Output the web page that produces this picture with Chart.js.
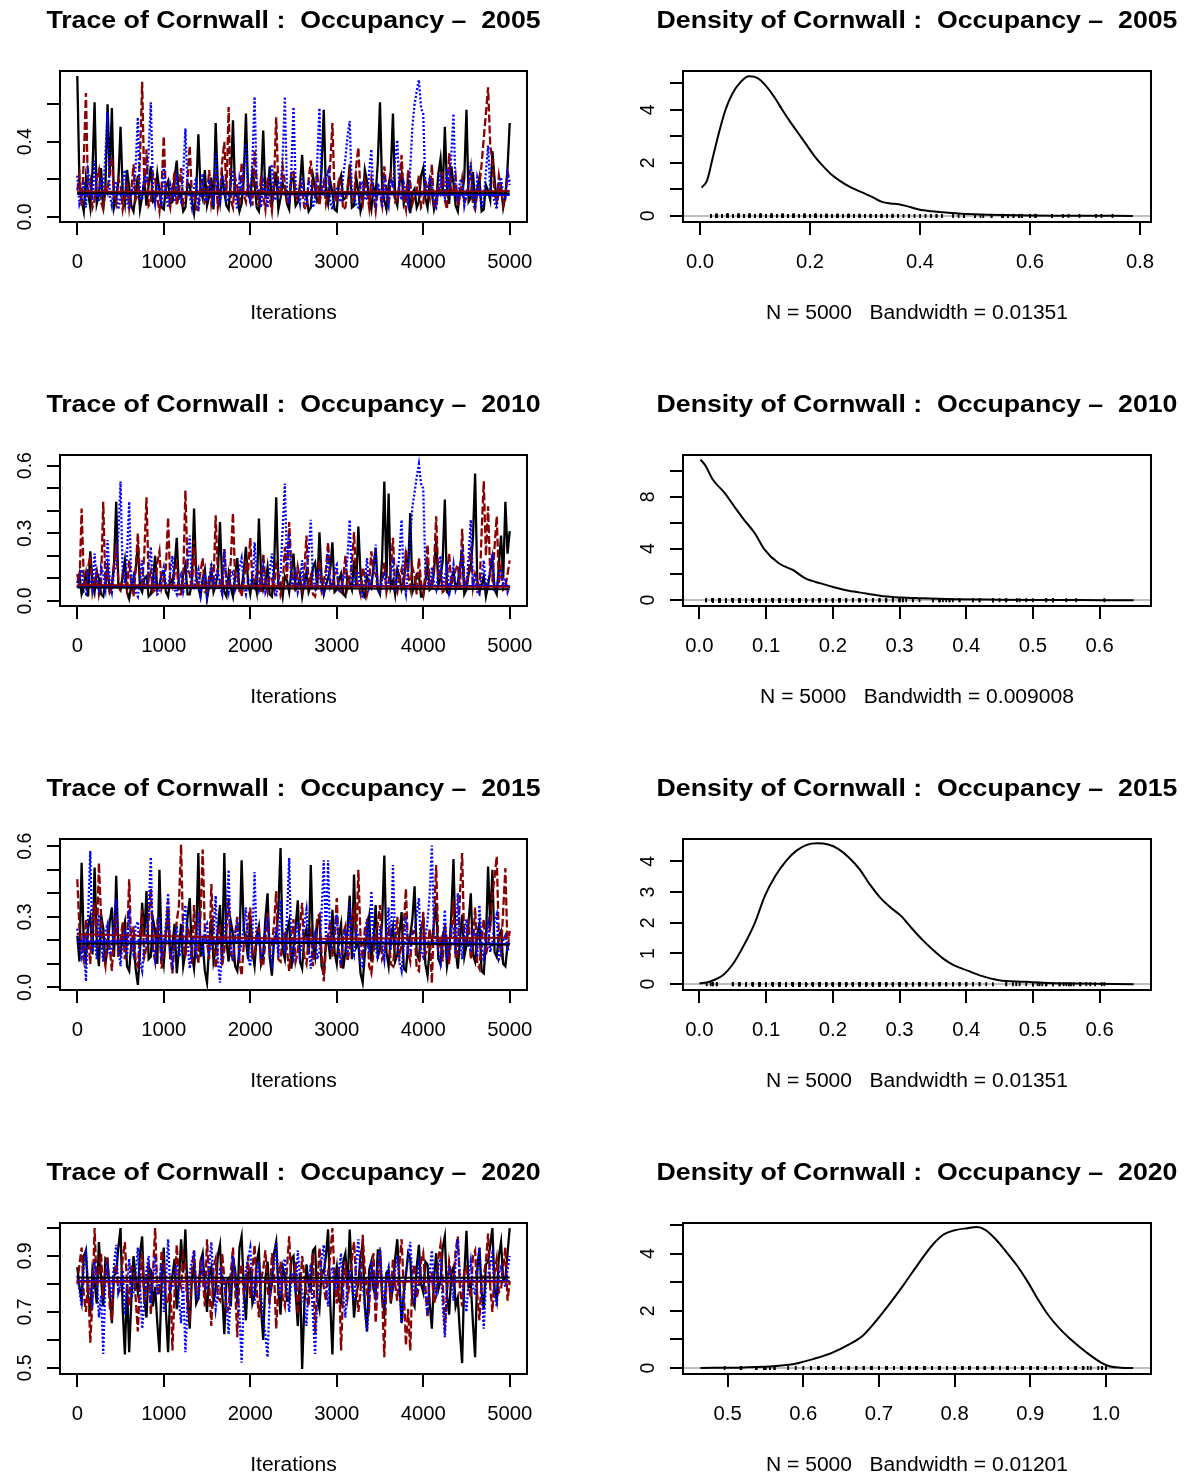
<!DOCTYPE html>
<html>
<head>
<meta charset="utf-8">
<title>Cornwall occupancy – trace and density</title>
<script src="https://cdn.jsdelivr.net/npm/chart.js@4/dist/chart.umd.min.js"></script>
<style>
  body { margin: 0; background: #fff; overflow: hidden; }
  #wrap { position: relative; width: 1187px; height: 1475px; }
  #wrap canvas { position: absolute; }
</style>
</head>
<body>
<div id="wrap"></div>
<script>
"use strict";

// =============================================================
// DATA (thinned to one value per 25 iterations)
// =============================================================
const years = ["2005", "2010", "2015", "2020"];
const iterStep = 25;
const iterTicks = [0, 1000, 2000, 3000, 4000, 5000];
const iterTickLabels = ["0", "1000", "2000", "3000", "4000", "5000"];
const smoothIters = [0, 1250, 2500, 3750, 5000];

const trace2005Black = [
  0.75,0.18, 0.09,0.03, 0.21,0.13, 0.05,0.24, 0.61,0.07, 0.12,0.26, 0.04,0.15, 0.60,0.22, 0.58,0.05, 0.10,0.19,
  0.48,0.14, 0.07,0.25, 0.16,0.06, 0.03,0.12, 0.22,0.04, 0.11,0.20, 0.06,0.17, 0.27,0.08, 0.09,0.23, 0.14,0.05,
  0.04,0.16, 0.19,0.07, 0.08,0.21, 0.30,0.10, 0.12,0.03, 0.05,0.18, 0.17,0.09, 0.02,0.13, 0.44,0.15, 0.10,0.25,
  0.06,0.11, 0.21,0.04, 0.50,0.17, 0.08,0.22, 0.13,0.06, 0.04,0.19, 0.515,0.12, 0.11,0.03, 0.07,0.20, 0.55,0.14,
  0.09,0.24, 0.18,0.05, 0.03,0.16, 0.46,0.11, 0.12,0.27, 0.06,0.15, 0.24,0.04, 0.10,0.18, 0.15,0.07, 0.04,0.21,
  0.20,0.06, 0.08,0.17, 0.33,0.12, 0.11,0.03, 0.05,0.22, 0.16,0.08, 0.09,0.26, 0.57,0.13, 0.07,0.19, 0.13,0.04,
  0.03,0.18, 0.22,0.09, 0.10,0.14, 0.28,0.05, 0.06,0.21, 0.14,0.03, 0.08,0.25, 0.19,0.10, 0.04,0.16, 0.12,0.29,
  0.61,0.15, 0.09,0.04, 0.17,0.24, 0.55,0.10, 0.06,0.18, 0.23,0.07, 0.11,0.20, 0.02,0.13, 0.15,0.05, 0.08,0.22,
  0.26,0.10, 0.05,0.19, 0.13,0.04, 0.09,0.23, 0.31,0.12, 0.48,0.16, 0.07,0.27, 0.18,0.06, 0.03,0.14, 0.12,0.21,
  0.57,0.08, 0.10,0.24, 0.06,0.15, 0.21,0.03, 0.04,0.17, 0.14,0.09, 0.35,0.20, 0.08,0.13, 0.16,0.05, 0.11,0.26,
  0.50
];
const trace2005Red = [
  0.14,0.22, 0.06,0.30, 0.66,0.10, 0.18,0.05, 0.09,0.21, 0.25,0.08, 0.04,0.17, 0.13,0.26, 0.32,0.11, 0.07,0.20,
  0.17,0.04, 0.10,0.19, 0.05,0.14, 0.28,0.09, 0.12,0.31, 0.72,0.15, 0.36,0.06, 0.08,0.23, 0.20,0.10, 0.03,0.16,
  0.43,0.12, 0.11,0.05, 0.15,0.24, 0.06,0.13, 0.26,0.07, 0.09,0.20, 0.38,0.11, 0.13,0.04, 0.04,0.18, 0.19,0.08,
  0.10,0.25, 0.07,0.14, 0.23,0.05, 0.12,0.29, 0.40,0.13, 0.585,0.09, 0.05,0.21, 0.16,0.06, 0.29,0.12, 0.08,0.18,
  0.14,0.06, 0.35,0.16, 0.06,0.22, 0.11,0.04, 0.21,0.10, 0.03,0.19, 0.53,0.14, 0.12,0.27, 0.18,0.08, 0.07,0.23,
  0.25,0.11, 0.09,0.18, 0.15,0.05, 0.04,0.20, 0.30,0.13, 0.11,0.24, 0.06,0.15, 0.19,0.07, 0.13,0.28, 0.50,0.12,
  0.08,0.21, 0.17,0.04, 0.05,0.16, 0.24,0.09, 0.10,0.27, 0.37,0.12, 0.07,0.19, 0.14,0.05, 0.20,0.11, 0.03,0.15,
  0.12,0.06, 0.27,0.13, 0.06,0.22, 0.16,0.08, 0.09,0.18, 0.33,0.10, 0.04,0.25, 0.18,0.07, 0.11,0.14, 0.22,0.05,
  0.07,0.19, 0.15,0.10, 0.28,0.06, 0.05,0.17, 0.13,0.24, 0.09,0.04, 0.34,0.15, 0.12,0.21, 0.06,0.11, 0.20,0.08,
  0.10,0.18, 0.26,0.07, 0.04,0.13, 0.17,0.28, 0.42,0.55, 0.69,0.38, 0.30,0.12, 0.08,0.22, 0.15,0.06, 0.11,0.24,
  0.19
];
const trace2005Blue = [
  0.22,0.07, 0.11,0.19, 0.05,0.24, 0.17,0.09, 0.30,0.13, 0.08,0.21, 0.14,0.33, 0.56,0.12, 0.06,0.16, 0.19,0.04,
  0.10,0.20, 0.25,0.08, 0.04,0.15, 0.13,0.27, 0.53,0.10, 0.09,0.22, 0.18,0.35, 0.61,0.14, 0.07,0.18, 0.15,0.06,
  0.27,0.12, 0.05,0.17, 0.12,0.08, 0.20,0.11, 0.08,0.23, 0.47,0.16, 0.11,0.05, 0.16,0.21, 0.03,0.14, 0.23,0.09,
  0.09,0.18, 0.14,0.06, 0.34,0.15, 0.06,0.22, 0.18,0.08, 0.10,0.17, 0.25,0.11, 0.04,0.20, 0.13,0.26, 0.39,0.12,
  0.08,0.30, 0.64,0.17, 0.12,0.05, 0.19,0.14, 0.05,0.22, 0.28,0.09, 0.10,0.18, 0.15,0.32, 0.64,0.13, 0.07,0.25,
  0.585,0.16, 0.13,0.07, 0.21,0.12, 0.06,0.19, 0.17,0.05, 0.09,0.30, 0.58,0.14, 0.11,0.20, 0.24,0.08, 0.04,0.15,
  0.15,0.10, 0.08,0.22, 0.31,0.43, 0.51,0.13, 0.12,0.06, 0.05,0.17, 0.19,0.09, 0.10,0.24, 0.36,0.12, 0.07,0.18,
  0.14,0.05, 0.22,0.11, 0.06,0.20, 0.17,0.30, 0.41,0.14, 0.09,0.18, 0.13,0.07, 0.26,0.48, 0.60,0.67, 0.73,0.58,
  0.55,0.16, 0.11,0.21, 0.18,0.07, 0.05,0.14, 0.23,0.12, 0.10,0.26, 0.15,0.33, 0.55,0.13, 0.08,0.19, 0.20,0.06,
  0.12,0.17, 0.29,0.10, 0.06,0.21, 0.16,0.05, 0.09,0.24, 0.38,0.15, 0.13,0.08, 0.04,0.18, 0.21,0.11, 0.10,0.23,
  0.17
];

const trace2010Black = [
  0.08,0.12, 0.03,0.06, 0.12,0.02, 0.22,0.09, 0.04,0.13, 0.10,0.03, 0.02,0.08, 0.15,0.04, 0.06,0.17, 0.44,0.07,
  0.05,0.11, 0.18,0.04, 0.01,0.07, 0.09,0.14, 0.25,0.06, 0.04,0.10, 0.11,0.02, 0.03,0.09, 0.20,0.05, 0.07,0.12,
  0.13,0.04, 0.02,0.10, 0.08,0.15, 0.28,0.06, 0.05,0.12, 0.16,0.03, 0.03,0.08, 0.41,0.11, 0.06,0.02, 0.10,0.14,
  0.01,0.07, 0.14,0.04, 0.07,0.12, 0.35,0.09, 0.04,0.02, 0.12,0.06, 0.02,0.11, 0.19,0.05, 0.06,0.13, 0.24,0.08,
  0.03,0.10, 0.09,0.04, 0.365,0.12, 0.05,0.08, 0.15,0.03, 0.02,0.14, 0.46,0.07, 0.08,0.02, 0.11,0.09, 0.04,0.13,
  0.21,0.05, 0.06,0.11, 0.02,0.08, 0.13,0.04, 0.07,0.15, 0.17,0.06, 0.305,0.10, 0.03,0.07, 0.10,0.14, 0.26,0.04,
  0.05,0.09, 0.12,0.03, 0.02,0.11, 0.08,0.05, 0.18,0.07, 0.33,0.12, 0.04,0.02, 0.11,0.08, 0.06,0.15, 0.23,0.05,
  0.03,0.19, 0.53,0.10, 0.476,0.06, 0.09,0.03, 0.14,0.11, 0.05,0.08, 0.20,0.13, 0.39,0.04, 0.07,0.12, 0.12,0.02,
  0.02,0.09, 0.16,0.05, 0.06,0.13, 0.27,0.07, 0.10,0.18, 0.45,0.04, 0.03,0.10, 0.13,0.06, 0.08,0.15, 0.22,0.03,
  0.05,0.12, 0.15,0.28, 0.565,0.09, 0.04,0.07, 0.11,0.02, 0.07,0.13, 0.19,0.05, 0.03,0.16, 0.29,0.10, 0.44,0.21,
  0.31
];
const trace2010Red = [
  0.12,0.06, 0.41,0.10, 0.05,0.15, 0.20,0.04, 0.09,0.13, 0.03,0.08, 0.44,0.07, 0.14,0.03, 0.07,0.16, 0.25,0.09,
  0.04,0.12, 0.11,0.05, 0.18,0.07, 0.02,0.14, 0.30,0.10, 0.08,0.21, 0.46,0.09, 0.13,0.04, 0.05,0.17, 0.22,0.06,
  0.10,0.15, 0.37,0.08, 0.06,0.12, 0.16,0.03, 0.03,0.10, 0.49,0.14, 0.12,0.05, 0.27,0.09, 0.07,0.13, 0.19,0.04,
  0.04,0.11, 0.14,0.07, 0.38,0.12, 0.09,0.04, 0.23,0.08, 0.05,0.18, 0.39,0.10, 0.11,0.06, 0.02,0.09, 0.17,0.13,
  0.28,0.08, 0.06,0.14, 0.13,0.04, 0.21,0.09, 0.04,0.11, 0.10,0.05, 0.16,0.12, 0.03,0.07, 0.24,0.10, 0.35,0.15,
  0.08,0.04, 0.15,0.10, 0.05,0.13, 0.29,0.07, 0.11,0.03, 0.02,0.09, 0.18,0.05, 0.09,0.14, 0.26,0.08, 0.06,0.12,
  0.13,0.05, 0.04,0.10, 0.20,0.06, 0.10,0.16, 0.305,0.09, 0.07,0.03, 0.15,0.11, 0.03,0.08, 0.22,0.13, 0.12,0.05,
  0.05,0.09, 0.17,0.04, 0.09,0.14, 0.28,0.07, 0.04,0.10, 0.14,0.05, 0.23,0.12, 0.06,0.15, 0.11,0.03, 0.19,0.08,
  0.03,0.12, 0.25,0.06, 0.08,0.16, 0.375,0.10, 0.13,0.04, 0.05,0.11, 0.21,0.07, 0.10,0.14, 0.16,0.05, 0.32,0.09,
  0.07,0.13, 0.24,0.06, 0.12,0.09, 0.04,0.30, 0.53,0.20, 0.42,0.11, 0.09,0.24, 0.375,0.08, 0.15,0.05, 0.06,0.12,
  0.18
];
const trace2010Blue = [
  0.06,0.10, 0.14,0.04, 0.03,0.12, 0.09,0.05, 0.21,0.08, 0.05,0.15, 0.12,0.06, 0.27,0.09, 0.04,0.13, 0.16,0.30,
  0.53,0.12, 0.08,0.20, 0.44,0.07, 0.11,0.04, 0.02,0.09, 0.18,0.05, 0.07,0.14, 0.24,0.06, 0.10,0.03, 0.04,0.11,
  0.15,0.07, 0.06,0.13, 0.20,0.05, 0.03,0.10, 0.12,0.04, 0.08,0.16, 0.29,0.08, 0.05,0.11, 0.14,0.03, 0.09,0.12,
  0.02,0.08, 0.17,0.05, 0.11,0.14, 0.06,0.03, 0.23,0.09, 0.04,0.12, 0.13,0.05, 0.08,0.15, 0.19,0.07, 0.03,0.10,
  0.10,0.05, 0.26,0.11, 0.05,0.09, 0.15,0.04, 0.07,0.13, 0.21,0.06, 0.02,0.10, 0.12,0.32, 0.52,0.15, 0.30,0.07,
  0.09,0.13, 0.04,0.08, 0.18,0.05, 0.11,0.22, 0.36,0.10, 0.06,0.12, 0.14,0.04, 0.03,0.09, 0.22,0.06, 0.08,0.14,
  0.16,0.04, 0.05,0.11, 0.10,0.20, 0.36,0.08, 0.07,0.12, 0.13,0.03, 0.02,0.09, 0.19,0.06, 0.09,0.14, 0.25,0.05,
  0.04,0.10, 0.12,0.06, 0.06,0.13, 0.17,0.04, 0.10,0.21, 0.36,0.08, 0.03,0.15, 0.28,0.42, 0.48,0.55, 0.607,0.52,
  0.50,0.13, 0.09,0.05, 0.15,0.08, 0.05,0.12, 0.20,0.06, 0.11,0.15, 0.04,0.09, 0.16,0.05, 0.08,0.13, 0.24,0.07,
  0.06,0.20, 0.36,0.08, 0.12,0.04, 0.03,0.11, 0.18,0.06, 0.09,0.14, 0.21,0.05, 0.05,0.12, 0.14,0.07, 0.10,0.04,
  0.07
];

const trace2015Black = [
  0.22,0.11, 0.53,0.18, 0.12,0.26, 0.30,0.14, 0.51,0.20, 0.09,0.31, 0.25,0.10, 0.17,0.28, 0.34,0.13, 0.475,0.16,
  0.14,0.24, 0.28,0.09, 0.07,0.19, 0.21,0.08, 0.011,0.15, 0.36,0.22, 0.41,0.12, 0.13,0.29, 0.24,0.10, 0.50,0.17,
  0.10,0.23, 0.32,0.12, 0.18,0.27, 0.06,0.16, 0.27,0.09, 0.15,0.30, 0.38,0.14, 0.08,0.21, 0.571,0.13, 0.19,0.07,
  0.02,0.18, 0.29,0.11, 0.16,0.24, 0.35,0.10, 0.571,0.19, 0.11,0.28, 0.23,0.09, 0.07,0.17, 0.54,0.25, 0.20,0.12,
  0.31,0.15, 0.09,0.22, 0.26,0.10, 0.14,0.29, 0.40,0.13, 0.05,0.20, 0.22,0.33, 0.593,0.16, 0.12,0.24, 0.28,0.08,
  0.17,0.26, 0.37,0.11, 0.08,0.21, 0.25,0.14, 0.52,0.18, 0.13,0.27, 0.30,0.09, 0.06,0.19, 0.21,0.12, 0.33,0.15,
  0.10,0.22, 0.27,0.08, 0.15,0.25, 0.39,0.12, 0.48,0.17, 0.19,0.06, 0.02,0.14, 0.24,0.30, 0.11,0.20, 0.35,0.13,
  0.16,0.28, 0.561,0.15, 0.09,0.21, 0.26,0.11, 0.14,0.23, 0.32,0.08, 0.07,0.18, 0.22,0.29, 0.43,0.14, 0.12,0.25,
  0.29,0.10, 0.05,0.17, 0.20,0.27, 0.36,0.12, 0.10,0.22, 0.25,0.09, 0.15,0.31, 0.546,0.16, 0.08,0.20, 0.31,0.13,
  0.18,0.28, 0.40,0.14, 0.11,0.23, 0.27,0.07, 0.06,0.19, 0.514,0.26, 0.50,0.15, 0.13,0.22, 0.24,0.10, 0.09,0.18,
  0.19
];
const trace2015Red = [
  0.46,0.25, 0.18,0.12, 0.29,0.21, 0.10,0.27, 0.36,0.16, 0.53,0.30, 0.14,0.09, 0.23,0.17, 0.07,0.24, 0.31,0.13,
  0.20,0.28, 0.12,0.19, 0.46,0.15, 0.26,0.11, 0.09,0.22, 0.33,0.13, 0.17,0.29, 0.42,0.16, 0.11,0.27, 0.24,0.08,
  0.15,0.23, 0.37,0.14, 0.06,0.19, 0.28,0.35, 0.607,0.20, 0.13,0.26, 0.22,0.10, 0.35,0.18, 0.10,0.31, 0.586,0.24,
  0.19,0.12, 0.44,0.21, 0.08,0.17, 0.27,0.09, 0.16,0.25, 0.38,0.14, 0.12,0.23, 0.30,0.11, 0.05,0.18, 0.21,0.28,
  0.34,0.13, 0.14,0.24, 0.25,0.10, 0.09,0.20, 0.32,0.15, 0.18,0.27, 0.41,0.12, 0.11,0.22, 0.23,0.16, 0.07,0.19,
  0.29,0.11, 0.15,0.26, 0.36,0.13, 0.10,0.21, 0.24,0.09, 0.19,0.30, 0.31,0.14, 0.026,0.17, 0.22,0.28, 0.13,0.20,
  0.38,0.16, 0.08,0.23, 0.26,0.11, 0.17,0.29, 0.33,0.18, 0.50,0.21, 0.12,0.25, 0.28,0.09, 0.06,0.15, 0.21,0.27,
  0.35,0.12, 0.14,0.22, 0.25,0.10, 0.09,0.19, 0.30,0.13, 0.18,0.26, 0.42,0.15, 0.11,0.24, 0.23,0.08, 0.07,0.20,
  0.32,0.14, 0.16,0.25, 0.017,0.30, 0.52,0.17, 0.20,0.11, 0.27,0.19, 0.10,0.23, 0.37,0.12, 0.14,0.40, 0.571,0.18,
  0.22,0.29, 0.12,0.17, 0.34,0.10, 0.08,0.21, 0.29,0.14, 0.18,0.26, 0.39,0.47, 0.557,0.20, 0.15,0.33, 0.507,0.16,
  0.24
];
const trace2015Blue = [
  0.25,0.17, 0.13,0.22, 0.026,0.30, 0.58,0.15, 0.20,0.12, 0.31,0.19, 0.11,0.24, 0.27,0.14, 0.16,0.29, 0.38,0.18,
  0.09,0.20, 0.23,0.13, 0.33,0.18, 0.14,0.26, 0.28,0.11, 0.07,0.19, 0.21,0.32, 0.554,0.17, 0.12,0.24, 0.30,0.14,
  0.18,0.27, 0.40,0.16, 0.10,0.21, 0.26,0.13, 0.15,0.28, 0.35,0.19, 0.08,0.17, 0.22,0.12, 0.32,0.20, 0.13,0.25,
  0.27,0.15, 0.17,0.23, 0.39,0.12, 0.02,0.18, 0.24,0.31, 0.50,0.16, 0.11,0.21, 0.29,0.14, 0.19,0.26, 0.34,0.13,
  0.09,0.22, 0.49,0.18, 0.21,0.12, 0.14,0.25, 0.30,0.16, 0.10,0.20, 0.26,0.13, 0.37,0.19, 0.16,0.30, 0.55,0.15,
  0.12,0.23, 0.28,0.14, 0.20,0.27, 0.33,0.17, 0.08,0.19, 0.23,0.12, 0.15,0.32, 0.54,0.21, 0.54,0.16, 0.18,0.25,
  0.31,0.14, 0.11,0.20, 0.25,0.13, 0.36,0.18, 0.14,0.24, 0.22,0.10, 0.09,0.19, 0.29,0.15, 0.41,0.21, 0.17,0.12,
  0.26,0.19, 0.12,0.24, 0.34,0.16, 0.52,0.20, 0.19,0.11, 0.07,0.18, 0.30,0.14, 0.16,0.23, 0.24,0.31, 0.38,0.15,
  0.13,0.21, 0.28,0.40, 0.603,0.22, 0.21,0.15, 0.10,0.18, 0.33,0.12, 0.18,0.26, 0.25,0.14, 0.40,0.20, 0.12,0.23,
  0.29,0.17, 0.16,0.24, 0.23,0.13, 0.35,0.19, 0.11,0.22, 0.27,0.15, 0.19,0.28, 0.31,0.12, 0.14,0.20, 0.22,0.16,
  0.17
];

const trace2020Black = [
  0.86,0.79, 0.74,0.90, 0.92,0.76, 0.69,0.85, 0.81,0.73, 0.95,0.82, 0.72,0.89, 0.88,0.77, 0.66,0.83, 0.84,0.93,
  1.00,0.71, 0.548,0.80, 0.556,0.74, 0.90,0.82, 0.77,0.91, 0.97,0.75, 0.68,0.86, 0.85,0.72, 0.79,0.66, 0.556,0.81,
  0.93,0.70, 0.556,0.78, 0.83,0.89, 0.71,0.80, 0.96,0.84, 0.995,0.76, 0.64,0.82, 0.87,0.73, 0.75,0.88, 0.91,0.79,
  0.70,0.83, 0.86,0.74, 0.78,0.90, 0.94,0.77, 0.62,0.81, 0.82,0.72, 0.89,0.85, 0.73,0.93, 0.97,0.79, 0.67,0.84,
  0.85,0.73, 0.76,0.88, 0.92,0.71, 0.60,0.82, 0.88,0.75, 0.80,0.91, 0.95,0.78, 0.69,0.86, 0.83,0.74, 0.74,0.89,
  0.90,0.77, 0.65,0.84, 0.496,0.72, 0.87,0.80, 0.78,0.92, 0.93,0.75, 0.71,0.85, 0.84,0.90, 0.995,0.73, 0.548,0.81,
  0.86,0.74, 0.73,0.88, 0.91,0.79, 0.995,0.83, 0.68,0.76, 0.80,0.90, 0.94,0.72, 0.63,0.85, 0.88,0.78, 0.76,0.92,
  0.92,0.75, 0.70,0.84, 0.85,0.73, 0.79,0.89, 0.96,0.81, 0.66,0.77, 0.83,0.91, 0.89,0.74, 0.72,0.86, 0.94,0.80,
  0.77,0.88, 0.87,0.73, 0.64,0.82, 0.91,0.78, 0.81,0.93, 0.97,0.76, 0.69,0.84, 0.86,0.72, 0.75,0.62, 0.517,0.83,
  0.99,0.79, 0.80,0.66, 0.538,0.85, 0.93,0.77, 0.71,0.87, 0.88,0.94, 1.00,0.78, 0.74,0.90, 0.95,0.81, 0.82,0.91,
  1.00
];
const trace2020Red = [
  0.80,0.87, 0.93,0.76, 0.70,0.82, 0.59,0.74, 1.00,0.79, 0.84,0.91, 0.75,0.83, 0.90,0.72, 0.67,0.85, 0.87,0.77,
  0.78,0.89, 0.95,0.80, 0.72,0.86, 0.85,0.75, 0.63,0.81, 0.91,0.73, 0.81,0.88, 0.69,0.84, 1.00,0.79, 0.76,0.92,
  0.88,0.74, 0.73,0.83, 0.562,0.77, 0.94,0.82, 0.79,0.90, 0.86,0.71, 0.68,0.85, 0.92,0.78, 0.77,0.87, 0.83,0.72,
  0.96,0.80, 0.65,0.86, 0.89,0.75, 0.74,0.91, 0.82,0.70, 0.71,0.84, 0.93,0.79, 0.61,0.83, 0.87,0.76, 0.80,0.90,
  0.75,0.85, 0.94,0.78, 0.68,0.82, 0.85,0.92, 0.78,0.73, 0.91,0.84, 0.64,0.79, 0.88,0.75, 0.72,0.86, 0.97,0.80,
  0.81,0.88, 0.69,0.77, 0.90,0.83, 0.76,0.72, 0.86,0.91, 0.62,0.78, 0.93,0.84, 0.79,0.74, 0.84,0.90, 1.00,0.82,
  0.73,0.86, 0.562,0.79, 0.88,0.75, 0.80,0.89, 0.95,0.81, 0.70,0.77, 0.976,0.85, 0.77,0.72, 0.85,0.91, 0.66,0.80,
  0.92,0.76, 0.538,0.82, 0.83,0.74, 0.89,0.80, 0.74,0.87, 0.96,0.78, 0.58,0.71, 0.562,0.83, 0.87,0.75, 0.79,0.88,
  0.91,0.79, 0.68,0.84, 0.84,0.73, 0.76,0.89, 0.94,0.81, 0.63,0.77, 0.88,0.83, 0.80,0.92, 0.97,0.78, 0.72,0.85,
  0.86,0.80, 0.75,0.90, 0.92,0.76, 0.67,0.82, 0.83,0.88, 0.98,0.79, 0.70,0.84, 0.89,0.77, 0.78,0.86, 0.93,0.74,
  0.81
];
const trace2020Blue = [
  0.83,0.78, 0.72,0.86, 0.91,0.80, 0.78,0.74, 0.88,0.82, 0.68,0.76, 0.55,0.81, 0.86,0.79, 0.75,0.87, 0.94,0.77,
  0.80,0.85, 0.69,0.79, 0.89,0.75, 0.77,0.84, 0.93,0.80, 0.64,0.73, 0.85,0.90, 0.73,0.82, 0.90,0.76, 0.81,0.87,
  0.70,0.81, 0.96,0.78, 0.79,0.85, 0.87,0.74, 0.66,0.80, 0.556,0.72, 0.84,0.88, 0.92,0.77, 0.74,0.83, 0.88,0.79,
  0.78,0.86, 0.95,0.81, 0.71,0.77, 0.86,0.83, 0.80,0.73, 0.62,0.79, 0.90,0.84, 0.76,0.70, 0.518,0.74, 0.85,0.89,
  0.93,0.80, 0.73,0.84, 0.88,0.76, 0.67,0.62, 0.538,0.75, 0.82,0.87, 0.95,0.81, 0.75,0.86, 0.89,0.78, 0.70,0.83,
  0.84,0.77, 0.92,0.82, 0.77,0.72, 0.65,0.80, 0.87,0.68, 0.55,0.76, 0.81,0.89, 0.94,0.79, 0.72,0.84, 0.86,0.78,
  0.79,0.85, 0.91,0.76, 0.68,0.82, 0.85,0.79, 0.74,0.88, 0.96,0.83, 0.80,0.72, 0.63,0.77, 0.88,0.81, 0.76,0.86,
  0.93,0.79, 0.71,0.83, 0.86,0.77, 0.78,0.85, 0.90,0.80, 0.66,0.74, 0.84,0.89, 0.95,0.82, 0.73,0.78, 0.87,0.81,
  0.81,0.76, 0.69,0.84, 0.92,0.80, 0.77,0.87, 0.89,0.73, 0.61,0.79, 0.85,0.82, 0.74,0.88, 0.96,0.83, 0.80,0.75,
  0.70,0.82, 0.88,0.79, 0.76,0.85, 0.93,0.78, 0.64,0.80, 0.83,0.87, 0.91,0.76, 0.72,0.84, 0.86,0.81, 0.79,0.85,
  0.90
];

// smoothed chain means (black, red, blue) at smoothIters
const smooth2005Black = [0.126, 0.125, 0.124, 0.125, 0.126];
const smooth2005Red   = [0.134, 0.133, 0.133, 0.134, 0.138];
const smooth2005Blue  = [0.122, 0.121, 0.121, 0.120, 0.117];
const smooth2010Black = [0.060, 0.058, 0.056, 0.054, 0.052];
const smooth2010Red   = [0.071, 0.069, 0.066, 0.064, 0.063];
const smooth2010Blue  = [0.064, 0.065, 0.066, 0.067, 0.067];
const smooth2015Black = [0.186, 0.188, 0.189, 0.186, 0.181];
const smooth2015Red   = [0.226, 0.216, 0.207, 0.209, 0.211];
const smooth2015Blue  = [0.195, 0.196, 0.195, 0.191, 0.185];
const smooth2020Black = [0.823, 0.822, 0.822, 0.822, 0.823];
const smooth2020Red   = [0.808, 0.808, 0.807, 0.808, 0.808];
const smooth2020Blue  = [0.811, 0.810, 0.810, 0.811, 0.811];

// y axis ticks of the trace panels ("" = label dropped by R)
const trace2005YTicks = [0, 0.2, 0.4, 0.6];
const trace2005YLabels = ["0.0", "", "0.4", ""];
const trace2010YTicks = [0, 0.1, 0.2, 0.3, 0.4, 0.5, 0.6];
const trace2010YLabels = ["0.0", "", "", "0.3", "", "", "0.6"];
const trace2015YTicks = [0, 0.1, 0.2, 0.3, 0.4, 0.5, 0.6];
const trace2015YLabels = ["0.0", "", "", "0.3", "", "", "0.6"];
const trace2020YTicks = [0.5, 0.6, 0.7, 0.8, 0.9, 1.0];
const trace2020YLabels = ["0.5", "", "0.7", "", "0.9", ""];

// kernel density curves
const density2005X = [0.003, 0.013, 0.022, 0.034, 0.046, 0.059, 0.074, 0.089, 0.104, 0.119,
  0.135, 0.150, 0.164, 0.179, 0.194, 0.209, 0.225, 0.240, 0.255, 0.270, 0.285, 0.300, 0.316,
  0.331, 0.346, 0.361, 0.376, 0.391, 0.406, 0.421, 0.436, 0.47, 0.50, 0.55, 0.60, 0.65, 0.70, 0.75, 0.787];
const density2005Y = [1.07, 1.35, 2.10, 3.11, 3.99, 4.62, 5.06, 5.27, 5.21, 4.93,
  4.49, 3.99, 3.55, 3.11, 2.67, 2.23, 1.85, 1.54, 1.31, 1.12, 0.97, 0.84, 0.68,
  0.53, 0.47, 0.44, 0.37, 0.28, 0.21, 0.18, 0.15, 0.09, 0.06, 0.03, 0.015, 0.008, 0.005, 0.003, 0.0];
const density2010X = [0.0016, 0.0094, 0.020, 0.038, 0.054, 0.067, 0.083, 0.098, 0.119, 0.140,
  0.159, 0.182, 0.203, 0.224, 0.250, 0.276, 0.303, 0.329, 0.381, 0.45, 0.50, 0.60, 0.651];
const density2010Y = [10.9, 10.4, 9.35, 8.3, 7.14, 6.23, 5.19, 3.9, 2.86, 2.34,
  1.69, 1.30, 0.99, 0.73, 0.52, 0.31, 0.21, 0.16, 0.08, 0.04, 0.02, 0.005, 0.0];
const density2015X = [0.0, 0.0147, 0.0356, 0.051, 0.067, 0.083, 0.098, 0.114, 0.130, 0.1455,
  0.161, 0.177, 0.193, 0.208, 0.224, 0.240, 0.2555, 0.271, 0.287, 0.303, 0.318, 0.334,
  0.350, 0.365, 0.381, 0.402, 0.423, 0.449, 0.486, 0.5225, 0.564, 0.651];
const density2015Y = [0.02, 0.08, 0.30, 0.68, 1.28, 1.99, 2.87, 3.53, 4.02, 4.35,
  4.54, 4.59, 4.55, 4.41, 4.13, 3.75, 3.25, 2.82, 2.49, 2.21, 1.83, 1.45,
  1.12, 0.84, 0.62, 0.44, 0.27, 0.13, 0.08, 0.04, 0.02, 0.0];
const density2020X = [0.464, 0.5217, 0.568, 0.591, 0.614, 0.637, 0.660, 0.679, 0.697, 0.716,
  0.734, 0.7525, 0.771, 0.785, 0.799, 0.817, 0.829, 0.840, 0.854, 0.868, 0.882, 0.8965,
  0.9095, 0.923, 0.937, 0.956, 0.974, 0.993, 1.006, 1.020, 1.036];
const density2020Y = [0.0, 0.02, 0.08, 0.16, 0.32, 0.52, 0.82, 1.14, 1.67, 2.31,
  2.96, 3.66, 4.31, 4.66, 4.81, 4.89, 4.93, 4.84, 4.51, 4.07, 3.60, 3.02,
  2.43, 1.88, 1.43, 0.94, 0.55, 0.20, 0.05, 0.01, 0.0];

const bandwidths = ["0.01351", "0.009008", "0.01351", "0.01201"];

const density2005XTicks = [0, 0.2, 0.4, 0.6, 0.8];
const density2005XLabels = ["0.0", "0.2", "0.4", "0.6", "0.8"];
const density2010XTicks = [0, 0.1, 0.2, 0.3, 0.4, 0.5, 0.6];
const density2010XLabels = ["0.0", "0.1", "0.2", "0.3", "0.4", "0.5", "0.6"];
const density2015XTicks = [0, 0.1, 0.2, 0.3, 0.4, 0.5, 0.6];
const density2015XLabels = ["0.0", "0.1", "0.2", "0.3", "0.4", "0.5", "0.6"];
const density2020XTicks = [0.5, 0.6, 0.7, 0.8, 0.9, 1.0];
const density2020XLabels = ["0.5", "0.6", "0.7", "0.8", "0.9", "1.0"];

const density2005YTicks = [0, 1, 2, 3, 4, 5];
const density2005YLabels = ["0", "", "2", "", "4", ""];
const density2010YTicks = [0, 2, 4, 6, 8, 10];
const density2010YLabels = ["0", "", "4", "", "8", ""];
const density2015YTicks = [0, 1, 2, 3, 4];
const density2015YLabels = ["0", "1", "2", "3", "4"];
const density2020YTicks = [0, 1, 2, 3, 4, 5];
const density2020YLabels = ["0", "", "2", "", "4", ""];

// =============================================================
// PANELS
// =============================================================
const panels = [
  {
    black: trace2005Black, red: trace2005Red, blue: trace2005Blue,
    smooth: [smooth2005Black, smooth2005Red, smooth2005Blue],
    yTicks: trace2005YTicks, yLabels: trace2005YLabels, yMin: -0.027, yMax: 0.777,
    dX: density2005X, dY: density2005Y, dXTicks: density2005XTicks, dXLabels: density2005XLabels,
    dYTicks: density2005YTicks, dYLabels: density2005YLabels,
    dxMin: -0.031, dxMax: 0.82, dyMin: -0.23, dyMax: 5.47
  },
  {
    black: trace2010Black, red: trace2010Red, blue: trace2010Blue,
    smooth: [smooth2010Black, smooth2010Red, smooth2010Blue],
    yTicks: trace2010YTicks, yLabels: trace2010YLabels, yMin: -0.022, yMax: 0.647,
    dX: density2010X, dY: density2010Y, dXTicks: density2010XTicks, dXLabels: density2010XLabels,
    dYTicks: density2010YTicks, dYLabels: density2010YLabels,
    dxMin: -0.0246, dxMax: 0.677, dyMin: -0.45, dyMax: 11.25
  },
  {
    black: trace2015Black, red: trace2015Red, blue: trace2015Blue,
    smooth: [smooth2015Black, smooth2015Red, smooth2015Blue],
    yTicks: trace2015YTicks, yLabels: trace2015YLabels, yMin: -0.011, yMax: 0.631,
    dX: density2015X, dY: density2015Y, dXTicks: density2015XTicks, dXLabels: density2015XLabels,
    dYTicks: density2015YTicks, dYLabels: density2015YLabels,
    dxMin: -0.0246, dxMax: 0.677, dyMin: -0.19, dyMax: 4.73
  },
  {
    black: trace2020Black, red: trace2020Red, blue: trace2020Blue,
    smooth: [smooth2020Black, smooth2020Red, smooth2020Blue],
    yTicks: trace2020YTicks, yLabels: trace2020YLabels, yMin: 0.478, yMax: 1.018,
    dX: density2020X, dY: density2020Y, dXTicks: density2020XTicks, dXLabels: density2020XLabels,
    dYTicks: density2020YTicks, dYLabels: density2020YLabels,
    dxMin: 0.441, dxMax: 1.0596, dyMin: -0.21, dyMax: 5.07
  }
];

const chainColors = ["#000000", "#8B0000", "#0000FF"];
const FONT = "'Liberation Sans', Arial, Helvetica, sans-serif";
const axisFont = "19.5px " + FONT;
const titleFont = "bold 24.5px " + FONT;

// =============================================================
// R-STYLE AXES, BOX AND TEXT
// =============================================================
function drawText(ctx, text, x, y, font, sx, rot) {
  ctx.save();
  ctx.translate(x, y);
  if (rot) ctx.rotate(rot);
  ctx.scale(sx, 1);
  ctx.font = font;
  ctx.fillStyle = "#000";
  ctx.textAlign = "center";
  ctx.textBaseline = "alphabetic";
  ctx.fillText(text, 0, 0);
  ctx.restore();
}

const rAxes = {
  id: "rAxes",
  beforeDatasetsDraw(chart, args, o) {
    if (!o.zeroLine) return;
    const { ctx, chartArea: a } = chart;
    const y0 = Math.round(chart.scales.y.getPixelForValue(0));
    ctx.save();
    ctx.strokeStyle = "#bebebe";
    ctx.lineWidth = 2;
    ctx.beginPath();
    ctx.moveTo(a.left, y0);
    ctx.lineTo(a.right, y0);
    ctx.stroke();
    ctx.restore();
  },
  afterDraw(chart, args, o) {
    const { ctx, chartArea: a } = chart;
    const xs = chart.scales.x, ys = chart.scales.y;
    ctx.save();
    ctx.strokeStyle = "#000";
    ctx.lineWidth = 2;
    ctx.strokeRect(a.left, a.top, a.right - a.left, a.bottom - a.top);
    ctx.beginPath();
    o.xTicks.forEach(v => {
      const px = Math.round(xs.getPixelForValue(v));
      ctx.moveTo(px, a.bottom);
      ctx.lineTo(px, a.bottom + 13);
    });
    o.yTicks.forEach(v => {
      const py = Math.round(ys.getPixelForValue(v));
      ctx.moveTo(a.left, py);
      ctx.lineTo(a.left - 13, py);
    });
    ctx.stroke();
    ctx.restore();

    o.xTicks.forEach((v, i) =>
      drawText(ctx, o.xLabels[i], xs.getPixelForValue(v), a.bottom + 45.5, axisFont, 1.04, 0));
    o.yTicks.forEach((v, i) => {
      if (o.yLabels[i]) drawText(ctx, o.yLabels[i], a.left - 29, ys.getPixelForValue(v), axisFont, 1, -Math.PI / 2);
    });
    const cx = (a.left + a.right) / 2;
    drawText(ctx, o.title, cx, a.top - 42.7, titleFont, 1.09, 0);
    drawText(ctx, o.xlab, cx, a.bottom + 96.5, axisFont, 1.08, 0);
  }
};

// =============================================================
// BUILD CHARTS
// =============================================================
const wrap = document.getElementById("wrap");
const toXY = vals => vals.map((v, i) => ({ x: i * iterStep, y: v }));
const pairXY = (xs, ys) => xs.map((x, i) => ({ x, y: ys[i] }));

function makeCanvas(left, top, w, h) {
  const c = document.createElement("canvas");
  c.width = w; c.height = h;
  c.style.left = left + "px"; c.style.top = top + "px";
  c.style.width = w + "px"; c.style.height = h + "px";
  wrap.appendChild(c);
  return c;
}

function baseOptions(padding, xMin, xMax, yMin, yMax, axes) {
  return {
    responsive: false,
    animation: false,
    events: [],
    layout: { padding },
    plugins: { legend: { display: false }, tooltip: { enabled: false }, rAxes: axes },
    scales: {
      x: { type: "linear", display: false, min: xMin, max: xMax },
      y: { type: "linear", display: false, min: yMin, max: yMax }
    },
    elements: { point: { radius: 0 } }
  };
}

panels.forEach((p, r) => {
  const top = r * 384;
  const h = Math.min(384, 1475 - top);
  const year = years[r];

  // ---- trace plot
  const traceSets = [p.black, p.red, p.blue].map((vals, k) => ({
    data: toXY(vals),
    borderColor: chainColors[k],
    borderWidth: 2.3,
    borderDash: k === 1 ? [8, 3] : k === 2 ? [2, 2] : [],
    tension: 0,
    pointRadius: 0,
    order: 3 - k
  }));
  p.smooth.forEach((vals, k) => traceSets.push({
    data: pairXY(smoothIters, vals),
    borderColor: chainColors[k],
    borderWidth: 2,
    tension: 0.3,
    pointRadius: 0,
    order: 0
  }));
  new Chart(makeCanvas(0, top, 594, h), {
    type: "line",
    data: { datasets: traceSets },
    options: baseOptions({ left: 60, top: 71, right: 67, bottom: h - 222 }, -200, 5200, p.yMin, p.yMax, {
      title: "Trace of Cornwall :  Occupancy \u2013  " + year,
      xlab: "Iterations",
      xTicks: iterTicks, xLabels: iterTickLabels,
      yTicks: p.yTicks, yLabels: p.yLabels,
      zeroLine: false
    }),
    plugins: [rAxes]
  });

  // ---- density plot with observation rug
  const rug = [].concat(p.black, p.red, p.blue).map(v => ({ x: v, y: 0 }));
  new Chart(makeCanvas(594, top, 593, h), {
    type: "line",
    data: {
      datasets: [
        {
          data: pairXY(p.dX, p.dY),
          borderColor: "#000",
          borderWidth: 2,
          cubicInterpolationMode: "monotone",
          pointRadius: 0,
          order: 0
        },
        {
          type: "scatter",
          data: rug,
          showLine: false,
          pointStyle: "line",
          rotation: 90,
          pointRadius: 2,
          borderColor: "#000",
          borderWidth: 1.8,
          order: 1
        }
      ]
    },
    options: baseOptions({ left: 89, top: 71, right: 36, bottom: h - 222 }, p.dxMin, p.dxMax, p.dyMin, p.dyMax, {
      title: "Density of Cornwall :  Occupancy \u2013  " + year,
      xlab: "N = 5000   Bandwidth = " + bandwidths[r],
      xTicks: p.dXTicks, xLabels: p.dXLabels,
      yTicks: p.dYTicks, yLabels: p.dYLabels,
      zeroLine: true
    }),
    plugins: [rAxes]
  });
});
</script>
</body>
</html>
